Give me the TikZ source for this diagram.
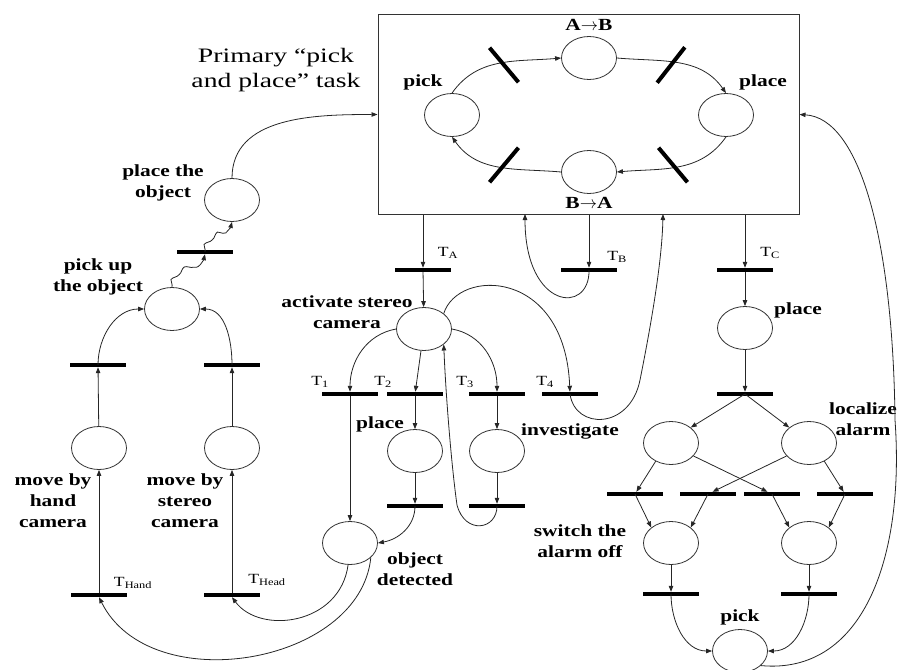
\documentclass[tikz,border=0pt]{standalone}
\usepackage{fontspec}
\setmainfont[FakeStretch=1.26]{Liberation Serif}
\newfontfamily\titlefont[FakeStretch=1.35]{Liberation Serif}
\usepackage{tikz}
\usetikzlibrary{arrows.meta}
\usetikzlibrary{shapes.geometric}
\usetikzlibrary{decorations.pathmorphing}

\tikzset{
  pnode/.style={draw=black!80, ellipse, minimum width=55pt, minimum height=43pt, inner sep=0pt, line width=0.8pt},
  tbar/.style={fill=black, minimum width=56pt, minimum height=4pt, inner sep=0pt},
  lbl/.style={font=\fontsize{17}{21}\selectfont\bfseries, align=center, inner sep=0pt},
  tlbl/.style={font=\fontsize{14}{16}\selectfont, inner sep=0pt},
  conn/.style={draw=black!85, line width=0.8pt, -{Triangle[length=6pt,width=4.5pt]}},
  wavy/.style={decorate, decoration={snake, amplitude=2pt, segment length=17pt, pre length=2pt, post length=6pt}}
}

\begin{document}
\begin{tikzpicture}[x=1pt,y=1pt]
\useasboundingbox (0,0) rectangle (901,-669);

% primary task
\node[draw=black!80, line width=1pt, minimum width=421pt, minimum height=199pt, inner sep=0pt] (task) at (588.5,-114.5) {};
\node[font=\titlefont\fontsize{20.5}{25}\selectfont, align=center] (title) at (276,-70) {Primary “pick\\and place” task};
\node[pnode] (pick) at (452,-115) {};
\node[pnode] (ab) at (589,-58) {};
\node[pnode] (place) at (726,-115) {};
\node[pnode] (ba) at (589,-172) {};
\node[lbl] (lpick) at (423,-82) {pick};
\node[lbl] (lab) at (589,-25) {A$\rightarrow$B};
\node[lbl] (lba) at (589,-203) {B$\rightarrow$A};
\node[lbl] (lplace) at (763,-82) {place};
\draw[conn] (pick.north) to[out=55,in=185] (ab.west);
\draw[conn] (ab.east) to[out=-5,in=125] (place.north);
\draw[conn] (place.south) to[out=-125,in=5] (ba.east);
\draw[conn] (ba.west) to[out=175,in=-55] (pick.south);
\node[tbar, minimum width=45pt, rotate=-50] (b1) at (504,-65) {};
\node[tbar, minimum width=45pt, rotate=52] (b2) at (671,-65) {};
\node[tbar, minimum width=45pt, rotate=-50] (b3) at (673,-165) {};
\node[tbar, minimum width=45pt, rotate=50] (b4) at (504,-165) {};
\coordinate (inb) at (525,-214);
\coordinate (in4) at (663,-214);

% left branch
\node[pnode] (putobj) at (232,-200) {};
\node[lbl] (lputobj) at (163,-183) {place the\\object};
\node[tbar] (tobj) at (205,-252) {};
\node[pnode] (pickup) at (172,-309) {};
\node[lbl] (lpickup) at (98,-277) {pick up\\the object};
\node[tbar] (thl) at (98,-365) {};
\node[tbar] (ths) at (232,-365) {};
\node[pnode] (mvhand) at (99,-448) {};
\node[pnode] (mvstereo) at (232,-448) {};
\node[lbl] (lmvhand) at (53,-501) {move by\\hand\\camera};
\node[lbl] (lmvstereo) at (185,-501) {move by\\stereo\\camera};
\node[tbar] (thand) at (99,-595) {};
\node[tbar] (thead) at (232,-595) {};
\node[tlbl] (lthand) at (133,-583) {T\textsubscript{Hand}};
\node[tlbl] (lthead) at (267,-580) {T\textsubscript{Head}};

% middle branch
\node[tbar] (ta) at (423,-270) {};
\node[tbar] (tb) at (589,-270) {};
\node[tbar] (tc) at (745,-270) {};
\node[tlbl] (lta) at (448,-253) {T\textsubscript{A}};
\node[tlbl] (ltb) at (617,-257) {T\textsubscript{B}};
\node[tlbl] (ltc) at (770,-253) {T\textsubscript{C}};
\node[pnode] (stereo) at (424,-329) {};
\node[lbl] (lstereo) at (347,-312) {activate stereo\\camera};
\node[tbar] (t1) at (350,-394) {};
\node[tbar] (t2) at (415,-394) {};
\node[tbar] (t3) at (497,-394) {};
\node[tbar] (t4) at (570,-394) {};
\node[tlbl] (lt1) at (320,-382) {T\textsubscript{1}};
\node[tlbl] (lt2) at (383,-382) {T\textsubscript{2}};
\node[tlbl] (lt3) at (465,-382) {T\textsubscript{3}};
\node[tlbl] (lt4) at (545,-382) {T\textsubscript{4}};
\node[pnode] (plmid) at (415,-451) {};
\node[lbl] (lplmid) at (380,-424) {place};
\node[pnode] (inv) at (497,-451) {};
\node[lbl] (linv) at (570,-431) {investigate};
\node[tbar] (tplmid) at (415,-506) {};
\node[tbar] (tinv) at (497,-506) {};
\node[pnode] (detect) at (350,-543) {};
\node[lbl] (ldetect) at (415,-569) {object\\detected};

% right branch
\node[pnode] (plr) at (745,-328) {};
\node[lbl] (lplr) at (798,-310) {place};
\node[tbar] (tplr) at (745,-394) {};
\node[pnode] (lcl) at (671,-443) {};
\node[pnode] (loc) at (809,-443) {};
\node[lbl] (lloc) at (863,-419) {localize\\alarm};
\node[tbar] (a1) at (635,-494) {};
\node[tbar] (a2) at (708,-494) {};
\node[tbar] (a3) at (772,-494) {};
\node[tbar] (a4) at (845,-494) {};
\node[pnode] (swl) at (671,-543) {};
\node[pnode] (swr) at (809,-543) {};
\node[lbl] (lsw) at (580,-541) {switch the\\alarm off};
\node[tbar] (s1) at (671,-594) {};
\node[tbar] (s2) at (809,-594) {};
\node[pnode] (pickr) at (740,-651) {};
\node[lbl] (lpickr) at (740,-617) {pick};

% left arcs
\draw[conn] (thand) -- (mvhand);
\draw[conn] (thead) -- (mvstereo);
\draw[conn] (mvhand) -- (thl);
\draw[conn] (mvstereo) -- (ths);
\draw[conn] (thl.center) to[out=90,in=180] (pickup.west);
\draw[conn] (ths.center) to[out=90,in=0] (pickup.east);
\draw[conn, wavy] (pickup.north) to[out=90,in=-90] (tobj.south);
\draw[conn, wavy] (tobj.center) to[out=90,in=-90] (putobj.south);
\draw[conn] (putobj.north) to[out=90,in=180] (task.west);

% middle arcs
\draw[conn] (task.south -| ta) -- (ta);
\draw[conn] (ta) -- (stereo);
\draw[conn] (task.south -| tb) -- (tb);
\draw[conn] (tb.center) .. controls (590,-315) and (525,-310) .. (inb);
\draw[conn] (stereo.west) to[out=190,in=90] (t1);
\draw[conn] (stereo) -- (t2);
\draw[conn] (stereo.east) to[out=-10,in=90] (t3);
\draw[conn] (stereo.north east) .. controls (458,-268) and (565,-268) .. (t4);
\draw[conn] (t4.center) .. controls (575,-430) and (630,-430) .. (640,-380) .. controls (652,-320) and (662,-260) .. (in4);
\draw[conn] (t1) -- (detect);
\draw[conn] (t2) -- (plmid);
\draw[conn] (t3) -- (inv);
\draw[conn] (plmid) -- (tplmid);
\draw[conn] (inv) -- (tinv);
\draw[conn] (tplmid.center) to[out=-90,in=10] (detect.east);
\draw[conn] (tinv.center) .. controls (497,-530) and (465,-535) .. (457,-505) .. controls (452,-470) and (446,-400) .. (stereo.south east);
\draw[conn] (detect.-35) .. controls (360,-665) and (150,-700) .. (thand.south);
\draw[conn] (detect.-95) .. controls (340,-625) and (260,-635) .. (thead.south);

% right arcs
\draw[conn] (task.south -| tc) -- (tc);
\draw[conn] (tc) -- (plr);
\draw[conn] (plr) -- (tplr);
\draw[conn] (tplr.center) -- (lcl.north east);
\draw[conn] (tplr.center) -- (loc.north west);
\draw[conn] (lcl.-130) -- (a1);
\draw[conn] (lcl.-30) -- (a3);
\draw[conn] (loc.-150) -- (a2);
\draw[conn] (loc.-50) -- (a4);
\draw[conn] (a1.center) -- (swl.north west);
\draw[conn] (a2.center) -- (swl.north east);
\draw[conn] (a3.center) -- (swr.north west);
\draw[conn] (a4.center) -- (swr.north east);
\draw[conn] (swl) -- (s1);
\draw[conn] (swr) -- (s2);
\draw[conn] (s1.center) to[out=-90,in=180] (pickr.west);
\draw[conn] (s2.center) to[out=-90,in=0] (pickr.east);
\draw[conn] (pickr.-35) .. controls (862,-675) and (905,-560) .. (895,-420) .. controls (893,-240) and (860,-118) .. (task.east);
\end{tikzpicture}
\end{document}
